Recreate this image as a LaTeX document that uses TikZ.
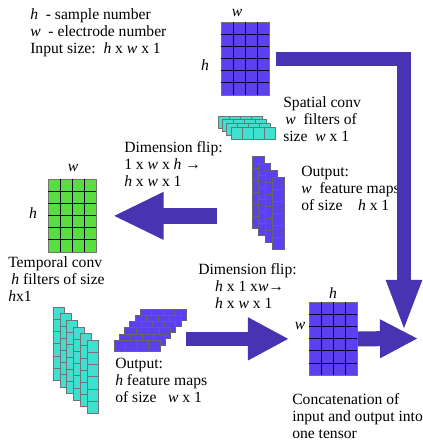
\documentclass[tikz,border=0pt]{standalone}
\usepackage{fontspec}
\setmainfont{Liberation Serif}
\definecolor{cnnblue}{RGB}{92,64,240}
\definecolor{cnngreen}{RGB}{88,222,64}
\definecolor{cnncyan}{RGB}{64,224,208}
\definecolor{cnnarrow}{RGB}{72,52,178}
\usetikzlibrary{arrows.meta,positioning,calc}

\begin{document}
\begin{tikzpicture}[x=0.025cm, y=-0.025cm,
    txt/.style={font=\fontsize{11.1}{12.1}\selectfont, align=left,
                anchor=north west, inner sep=0pt},
    dimtxt/.style={font=\fontsize{11.1}{12.1}\selectfont\itshape, inner sep=0pt},
    mapgrid/.style={rectangle, draw=black!55, line width=0.5pt, inner sep=0pt,
                    anchor=north west, minimum width=1.2cm, minimum height=1.825cm},
    gridline/.style={draw=black!80!blue, line width=0.5pt},
    cyancell/.style={draw=black!55, line width=0.35pt, fill=cnncyan},
    bluecell/.style={draw=black!60, line width=0.35pt, fill=cnnblue},
    stackbox/.style={rectangle, inner sep=0pt, outer sep=0pt},
    bigarrow/.style={draw=cnnarrow, line join=miter}
  ]
    \useasboundingbox (0,0) rectangle (422,445);

    % Legend
    \node[txt] (legend) at (30,8) {\textit{h}\ \ - sample number\\
      \textit{w}\ \ - electrode number\\ Input size:\ \ \textit{h} x \textit{w} x 1};

    % Input, temporal conv and concatenated maps
    \node[mapgrid, fill=cnnblue]  (input)    at (221,22)  {};
    \node[mapgrid, fill=cnngreen] (temporal) at (48,179)  {};
    \node[mapgrid, fill=cnnblue]  (concat)   at (309,302) {};
    \foreach \g in {input,temporal,concat} {
      \begin{scope}[shift={(\g.north west)}]
        \foreach \i in {1,2,3} \draw[gridline] (\i*12,0) -- (\i*12,73);
        \foreach \j in {1,...,5} \draw[gridline] (0,\j*12.17) -- (48,\j*12.17);
      \end{scope}
    }
    \node[dimtxt] (inw)  at (237,13)  {w};
    \node[dimtxt] (inh)  at (205,65)  {h};
    \node[dimtxt] (tmpw) at (73,168)  {w};
    \node[dimtxt] (tmph) at (33,213)  {h};
    \node[dimtxt] (cath) at (333,293) {h};
    \node[dimtxt] (catw) at (300,326) {w};

    % Spatial filters
    \foreach \k in {3,2,1,0}
      \foreach \c in {0,...,3}
        \draw[cyancell] ({231-4.3*\k+11*\c},{127-3.7*\k}) rectangle ++(11,12);
    \node[txt] (spatlbl) at (283,96) {Spatial conv\\
      \hspace*{0.05cm}\textit{w}\ \ filters of\\ size\ \ \textit{w} x 1};

    % w feature maps
    \foreach \k in {0,...,3}
      \foreach \r in {0,...,5}
        \draw[bluecell] ({252+6.7*\k},{156+7*\k+12*\r}) rectangle ++(12,12);
    \node[stackbox, minimum width=0.8cm, minimum height=2.325cm] (wmaps) at (268,202.5) {};
    \node[txt] (wmapslbl) at (301,166) {Output:\\
      \textit{w}\ \ feature maps\\ of size\ \ \ \ \textit{h} x 1};

    % Temporal filters
    \foreach \k in {0,...,5}
      \foreach \r in {0,...,5}
        \draw[cyancell] ({53+6.8*\k},{307+6.6*\k+12.2*\r}) rectangle ++(11,12.2);
    \node[txt] (tmplbl) at (8,256) {Temporal conv\\
      \hspace*{0.08cm}\textit{h}\ filters of size\\ \textit{h}x1};

    % h feature maps
    \foreach \k in {5,4,...,0}
      \foreach \c in {0,...,3}
        \draw[bluecell] ({114+5.2*\k+11.5*\c},{340-6.2*\k}) rectangle ++(11.5,11);
    \node[stackbox, minimum width=1.8cm, minimum height=1.05cm] (hmaps) at (150,330) {};
    \node[txt] (hmapslbl) at (115,358) {Output:\\
      \textit{h}\ feature maps\\ of size\ \ \ \textit{w} x 1};

    % Dimension flips
    \node[txt] (flipA) at (124,141) {Dimension flip:\\
      1 x \textit{w} x \textit{h} →\\ \textit{h} x \textit{w} x 1};
    \node[txt] (flipB) at (198,263) {Dimension flip:\\
      \hspace*{0.42cm}\textit{h} x 1 x\textit{w}→\\ \hspace*{0.42cm}\textit{h} x \textit{w} x 1};
    \node[txt] (catlbl) at (292,393) {Concatenation of\\
      input and output into\\ one tensor};

    % Arrows
    \coordinate (drop)  at (404,332);
    \coordinate (merge) at (418,338.5);
    \draw[bigarrow, line width=0.34cm, -{Triangle[length=1.3cm, width=0.8cm]},
          shorten <=0.15cm] (input.east) -| (drop);
    \draw[bigarrow, line width=0.4cm, -{Triangle[length=1.275cm, width=1.1cm]},
          shorten <=0.875cm, shorten >=0.4cm] (wmaps.west |- temporal.east) -- (temporal.east);
    \draw[bigarrow, line width=0.35cm, -{Triangle[length=1.025cm, width=1cm]},
          shorten >=0.5cm] (hmaps.east |- concat.west) -- (concat.west);
    \draw[bigarrow, line width=0.375cm, -{Triangle[length=0.95cm, width=0.9cm]}]
          (concat.east) -- (merge);
  \end{tikzpicture}
\end{document}
